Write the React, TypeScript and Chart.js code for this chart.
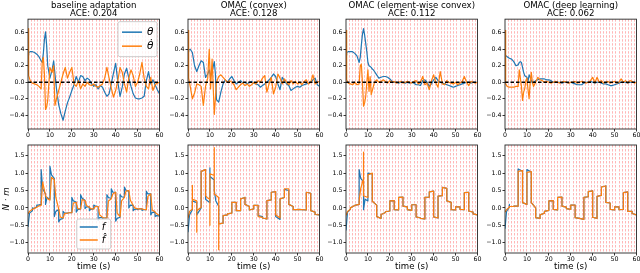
import React, { useEffect, useRef } from 'react';
import { Chart, registerables } from 'chart.js';
Chart.register(...registerables);

const FONT = "'DejaVu Sans', 'Liberation Sans', sans-serif";
const BLUE = '#1f77b4';
const ORANGE = '#ff7f0e';
Chart.defaults.font.family = FONT;

// ---------- titles / labels ----------
const TITLES = ['baseline adaptation', 'OMAC (convex)', 'OMAC (element-wise convex)', 'OMAC (deep learning)'];
const ACE = ['ACE: 0.204', 'ACE: 0.128', 'ACE: 0.112', 'ACE: 0.062'];
const TOP_NAMES = ['\u03B8', '\u03B8\u0307'];
const BOT_NAMES = ['f', 'f\u0302'];
const X_LABEL = 'time (s)';
const Y_LABEL_BOTTOM = 'N \u00B7 m';

// ---------- axes ----------
const X_MIN = 0;
const X_MAX = 60;
const X_TICKS = [0, 10, 20, 30, 40, 50, 60];
const TOP_Y_MIN = -0.566;
const TOP_Y_MAX = 0.764;
const TOP_Y_TICKS = [-0.4, -0.2, 0, 0.2, 0.4, 0.6];
const BOT_Y_MIN = -1.296;
const BOT_Y_MAX = 1.807;
const BOT_Y_TICKS = [-1.0, -0.5, 0, 0.5, 1.0, 1.5];
const VLINE_STEP = 1.4;
const SEG_LEN = 2;
const MID_OFFSET = 0.7;

// ---------- top row: theta and theta-dot ----------
const P1_T = [0, 0.3, 1, 2, 3, 4, 5, 6, 6.5, 7, 7.5, 8, 8.5, 9, 10, 11, 11.7, 12.3, 13, 14, 15, 16, 17, 18, 19, 20, 21, 22, 23, 24, 25, 26, 27, 28, 29, 30, 31, 32, 33, 34, 35, 36, 37, 38, 39, 40, 41, 42, 43, 44, 45, 46, 47, 48, 49, 50, 51, 52, 53, 54, 55, 56, 57, 58, 59, 60];
const P1_THETA = [0.33, 0.36, 0.37, 0.37, 0.36, 0.34, 0.31, 0.26, 0.24, 0.35, 0.52, 0.61, 0.45, 0.2, 0.05, 0.15, 0.26, 0.1,
  -0.08, -0.27, -0.38, -0.46, -0.35, -0.25, -0.18, -0.1, -0.03, 0.07,
  0.0, 0.08, 0.07, 0.02, 0.05, 0.03, -0.02, -0.05, -0.03, -0.08,
  -0.04, -0.06, -0.12, -0.17, -0.14, -0.02, 0.11, 0.23, 0.0, -0.17,
  -0.06, 0.1, 0.17, 0.05, -0.05, -0.14, -0.19, -0.2, -0.2, -0.19,
  -0.17, 0.02, 0.13, -0.02, 0.03, -0.03, -0.09, -0.14];
const P1_DTHETA = [0.65, 0.08, 0.02, -0.01, -0.02, -0.03, -0.05, -0.08, 0.25, 0.3, 0.1, -0.33, -0.3, -0.22, 0.18, 0.12, 0.2, -0.28,
  -0.2, -0.1, 0.0, 0.1, 0.18, 0.05, 0.12, 0.18, -0.02, -0.05,
  0.02, -0.08, -0.02, -0.05, 0.0, -0.03, -0.04, -0.02, -0.05, -0.06,
  -0.04, -0.02, 0.05, 0.18, 0.05, -0.07, -0.18, -0.1, 0.02, 0.18,
  0.12, -0.02, -0.12, 0.05, 0.15, 0.08, -0.05, 0.0, 0.1, 0.24,
  0.05, -0.05, -0.08, 0.06, -0.1, -0.03, -0.01, 0.0];

const P2_T = [0, 0.3, 1, 2, 3, 4, 5, 6, 7, 8, 9, 9.7, 10.3, 11, 12, 12.5, 13, 14, 15, 16, 17, 18, 19, 20, 21, 22, 23, 24, 25, 26, 27, 28, 29, 30, 31, 32, 33, 34, 35, 36, 37, 38, 39, 40, 41, 42, 43, 44, 45, 46, 47, 48, 49, 50, 51, 52, 53, 54, 55, 56, 57, 58, 59, 60];
const P2_THETA = [0.37, 0.39, 0.4, 0.36, 0.2, 0.13, 0.2, 0.26, 0.24, 0.06, 0.1, 0.15, 0.07, 0.13, 0.25, 0.1,
  -0.21, -0.24, -0.12, -0.02, 0.03, 0.0, 0.04, 0.07, 0.02, -0.02,
  0.0, 0.02, -0.01, 0.0, -0.02, 0.0, 0.01, -0.01, -0.02, -0.03,
  -0.06, -0.04, -0.02, 0.0, 0.03, 0.06, 0.1, 0.07, -0.02, -0.09,
  0.06, 0.02, -0.02, -0.04, -0.1, -0.08, -0.06, -0.05, -0.06, -0.04,
  -0.03, -0.02, -0.01, 0.0, 0.03, 0.05, -0.03, -0.05];
const P2_DTHETA = [0.63, 0.05, -0.05, -0.2, -0.13, -0.02, -0.03, -0.05, -0.28, -0.05, 0.05, 0.4, -0.08, 0.28, -0.39, -0.2,
  0.0, 0.07, 0.09, 0.06, 0.03, 0.0, 0.02, 0.0, -0.03, -0.09,
  -0.06, -0.03, -0.01, -0.04, -0.02, -0.05, -0.03, 0.0, -0.02, 0.02,
  0.0, 0.05, 0.08, -0.12, -0.02, 0.06, -0.14, -0.06, 0.1, 0.05,
  -0.02, 0.04, 0.0, -0.03, 0.02, -0.02, 0.01, -0.02, 0.0, -0.03,
  0.01, 0.03, -0.02, 0.0, 0.09, -0.02, 0.0, 0.01];

const P3_T = [0, 0.3, 1, 2, 3, 4, 5, 6, 6.5, 7, 7.5, 8, 8.5, 9, 9.5, 10, 10.5, 11, 11.5, 12, 12.5, 13, 14, 15, 16, 17, 18, 19, 20, 21, 22, 23, 24, 25, 26, 27, 28, 29, 30, 31, 32, 33, 34, 35, 36, 37, 38, 39, 40, 41, 42, 43, 44, 45, 46, 47, 48, 49, 50, 51, 52, 53, 54, 55, 56, 57, 58, 59, 60];
const P3_THETA = [0.33, 0.36, 0.37, 0.37, 0.37, 0.35, 0.32, 0.24, 0.3, 0.45, 0.58, 0.65, 0.57, 0.47, 0.37, 0.24, 0.2, 0.19, 0.18, 0.16, 0.15,
  0.13, 0.09, 0.05, 0.06, 0.07, 0.07, 0.06, 0.04, 0.01, 0.0,
  0.0, -0.01, 0.0, 0.0, -0.01, 0.0, -0.01, 0.0, -0.01, -0.03,
  -0.03, -0.04, 0.02, 0.03, 0.0, -0.05, -0.02, 0.03, 0.06, 0.02,
  0.0, -0.01, -0.02, -0.03, -0.04, -0.05, -0.06, -0.05, -0.04, -0.03,
  -0.02, -0.01, 0.0, 0.0, -0.01, 0.0, 0.0, 0.0];
const P3_DTHETA = [0.63, 0.03, -0.01, -0.02, -0.03, 0.0, -0.03, -0.02, 0.2, 0.22, 0.0, -0.29, -0.25, -0.17, 0.0, 0.15, -0.11, 0.07, -0.15, -0.1, -0.05,
  0.0, 0.03, 0.0, 0.01, 0.03, 0.01, -0.01, 0.02, 0.0, 0.01,
  -0.01, 0.0, 0.01, -0.01, 0.0, 0.01, 0.0, -0.01, 0.01, 0.02,
  -0.02, 0.0, 0.07, -0.03, -0.01, -0.09, 0.02, 0.09, -0.01, -0.06,
  0.13, -0.02, -0.03, 0.02, 0.0, -0.01, -0.02, 0.0, -0.03, -0.01,
  0.01, 0.07, 0.0, -0.04, 0.01, 0.0, -0.01, 0.0];

const P4_T = [0, 0.3, 1, 2, 3, 4, 5, 6, 6.5, 7, 7.5, 8, 8.5, 9, 9.5, 10, 10.5, 11, 11.5, 12, 12.5, 13, 14, 15, 16, 17, 18, 19, 20, 21, 22, 23, 24, 25, 26, 27, 28, 29, 30, 31, 32, 33, 34, 35, 36, 37, 38, 39, 40, 41, 42, 43, 44, 45, 46, 47, 48, 49, 50, 51, 52, 53, 54, 55, 56, 57, 58, 59, 60];
const P4_THETA = [0.33, 0.33, 0.31, 0.29, 0.28, 0.25, 0.2, 0.21, 0.24, 0.25, 0.24, 0.18, 0.12, 0.08, 0.07, 0.06, 0.01, 0.09, 0.06, 0.02, -0.01,
  0.0, 0.02, 0.03, 0.04, 0.04, 0.04, 0.03, 0.03, 0.02, 0.0,
  0.0, 0.0, 0.0, -0.01, 0.0, 0.0, -0.01, 0.0, -0.01, -0.02,
  -0.03, -0.03, -0.03, -0.01, 0.0, 0.0, 0.01, 0.0, -0.01, 0.0,
  0.0, -0.01, -0.02, -0.02, -0.03, -0.04, -0.04, -0.03, -0.02, -0.01,
  0.0, 0.0, 0.0, -0.01, 0.0, 0.0, 0.0, 0.0];
const P4_DTHETA = [0.63, -0.02, -0.05, -0.06, -0.06, -0.06, -0.05, -0.05, 0.15, 0.05, -0.05, -0.22, -0.12, -0.08, 0.02, 0.05, -0.09, -0.2, 0.0, 0.12, 0.0,
  -0.05, 0.0, 0.06, 0.03, 0.02, 0.0, 0.01, 0.0, -0.01, 0.0,
  0.01, 0.0, -0.01, 0.0, 0.01, 0.0, -0.01, 0.0, 0.0, 0.01,
  -0.01, 0.0, 0.01, 0.0, -0.01, 0.0, 0.02, 0.06, -0.01, 0.06,
  0.0, 0.02, -0.01, 0.0, 0.01, -0.01, 0.0, 0.01, -0.01, 0.0,
  0.04, 0.0, 0.02, -0.01, 0.02, 0.01, -0.01, 0.0];

// ---------- bottom row: f and f-hat, per 2 s segment (start J, value M at +0.7 s, end E) ----------
const N = null;
const P1_FHAT_J = [-0.17, -0.04, 0.02, 0.07, 0.35, 0.22, 0.8, -0.03, -0.29, -0.15, -0.14, 0.16, -0.03, 0.21, 0.02, -0.03, 0.04, -0.27, -0.29, 0.26, 0.45, -0.25, 0.3, 0.5, 0.07, -0.03, -0.03, -0.05, 0.4, -0.12];
const P1_FHAT_M = [-0.1, -0.02, 0.05, 0.74, 0.28, 0.88, 0.3, -0.26, -0.16, -0.14, 0.14, -0.02, 0.24, 0.07, -0.03, 0.04, -0.2, -0.29, 0.2, 0.4, -0.15, 0.2, 0.48, 0.22, 0.0, -0.03, -0.04, 0.33, -0.06, -0.17];
const P1_FHAT_E = [-0.04, 0.02, 0.07, 0.35, 0.22, 0.8, -0.03, -0.29, -0.15, -0.14, 0.16, -0.03, 0.21, 0.02, -0.03, 0.04, -0.27, -0.29, 0.26, 0.45, -0.25, 0.3, 0.5, 0.07, -0.03, -0.03, -0.05, 0.4, -0.12, -0.22];
const P1_F_J = [-0.55, 0.0, 0.08, 1.1, 0.1, 1.2, -0.25, -0.4, -0.1, -0.15, 0.3, -0.12, 0.38, -0.02, -0.08, 0.08, -0.35, -0.3, 0.38, 0.55, -0.38, 0.38, 0.6, 0.0, -0.08, -0.05, -0.07, 0.48, -0.2, -0.25];
const P1_F_M = [-0.15, -0.02, 0.08, 0.55, 0.3, 0.95, -0.1, -0.33, -0.15, -0.14, 0.2, -0.05, 0.28, 0.03, -0.04, 0.05, -0.28, -0.29, 0.3, 0.45, -0.3, 0.32, 0.5, 0.08, -0.04, -0.03, -0.05, 0.4, -0.13, -0.22];
const P1_F_E = [-0.08, 0.03, 0.1, 0.4, 0.25, 0.85, -0.05, -0.3, -0.15, -0.14, 0.17, -0.03, 0.22, 0.03, -0.03, 0.04, -0.28, -0.29, 0.27, 0.45, -0.27, 0.3, 0.48, 0.07, -0.03, -0.03, -0.05, 0.4, -0.12, -0.23];

const P2_FHAT_J = [-0.3, 0.25, -0.08, 1.05, 0.35, 0.98, 0.4, -0.46, -0.22, -0.17, 0.16, -0.08, 0.26, 0.1, -0.06, 0.07, -0.25, -0.29, 0.21, 0.45, -0.2, 0.26, 0.55, 0.1, -0.05, -0.04, -0.05, 0.45, -0.08, -0.19];
const P2_FHAT_M = [-0.1, N, N, N, 0.3, N, N, N, N, N, N, N, N, N, N, N, N, N, N, N, N, N, N, N, N, N, N, N, N, N];
const P2_FHAT_E = [-0.03, 0.2, 0.02, 1.1, 0.25, 0.93, 0.3, -0.44, -0.2, -0.15, 0.16, -0.08, 0.3, 0.04, -0.03, 0.07, -0.27, -0.32, 0.23, 0.47, -0.29, 0.3, 0.55, 0.04, -0.05, -0.05, -0.06, 0.42, -0.12, -0.2];
const P2_FHAT_SPIKES = [[1, 0.65], [2, -0.7], [5, -0.5], [6, 1.73], [7, -1.2]];
const P2_F_OVERRIDES = [[0, -0.7, -0.2, -0.05], [1, 0.2, N, 0.15], [2, -0.2, N, 0.0], [4, 0.25, N, 0.15], [5, 0.9, N, 0.8], [6, 0.5, 0.2, 0.05], [16, -0.22, N, -0.25], [20, -0.25, N, -0.33], [22, 0.53, N, 0.5]];
const P2_F_SPIKES = [[5, 1.15]];

const P3_FHAT_J = [-0.22, 0.0, 0.07, 0.2, 0.35, 0.95, 0.19, -0.25, -0.19, -0.11, 0.2, -0.05, 0.3, 0.05, -0.05, 0.09, -0.26, -0.3, 0.3, 0.46, -0.26, 0.34, 0.59, 0.2, -0.05, 0.03, -0.04, 0.44, -0.09, -0.17];
const P3_FHAT_M = [-0.1, N, N, 0.55, N, N, N, N, N, N, N, N, N, N, N, N, N, N, N, N, N, N, N, N, N, N, N, N, N, N];
const P3_FHAT_E = [-0.04, 0.07, 0.1, 0.85, 0.3, 1.0, 0.08, -0.3, -0.13, -0.09, 0.21, -0.06, 0.31, 0.03, -0.07, 0.09, -0.29, -0.32, 0.31, 0.48, -0.29, 0.35, 0.56, 0.16, -0.06, 0.03, -0.05, 0.45, -0.12, -0.2];
const P3_FHAT_SPIKES = [[4, 1.6]];
const P3_F_OVERRIDES = [[0, -0.65, -0.12, -0.04], [3, 1.1, 0.85, 0.75], [4, -0.05, 0.25, 0.2], [5, 1.0, N, 0.98]];
const P3_F_SPIKES: number[][] = [];

const P4_FHAT_J = [-0.12, 0.04, 0.05, 1.05, 0.15, 1.02, 0.15, -0.28, -0.2, -0.1, 0.2, -0.04, 0.3, 0.05, -0.02, 0.08, -0.28, -0.3, 0.3, 0.47, -0.27, 0.33, 0.6, 0.16, -0.04, 0.03, -0.05, 0.44, -0.1, -0.16];
const P4_FHAT_M = [-0.05, N, N, N, N, N, N, N, N, N, N, N, N, N, N, N, N, N, N, N, N, N, N, N, N, N, N, N, N, N];
const P4_FHAT_E = [0.02, 0.04, 0.05, 1.07, 0.1, 1.04, 0.0, -0.3, -0.15, -0.07, 0.21, -0.06, 0.31, 0.02, -0.04, 0.08, -0.3, -0.33, 0.32, 0.49, -0.3, 0.36, 0.63, 0.14, -0.06, 0.03, -0.04, 0.46, -0.1, -0.2];
const P4_F_OVERRIDES = [[0, -0.6, -0.1, 0.02], [3, 1.12, N, 1.05], [5, 1.1, N, 1.03]];
const P4_F_SPIKES = [[1, 0.1]];

// ---------- helpers ----------
type Pt = { x: number; y: number };
const seriesPoints = (T: number[], V: number[]): Pt[] => T.map((t, i) => ({ x: t, y: V[i] }));

function stepPoints(J: number[], M: (number | null)[], E: number[], spikes: number[][]): Pt[] {
  const sp = new Map<number, number>(spikes.map((s) => [s[0], s[1]] as [number, number]));
  const pts: Pt[] = [];
  for (let k = 0; k < J.length; k++) {
    const t0 = k * SEG_LEN;
    if (sp.has(k)) pts.push({ x: t0, y: sp.get(k) as number });
    pts.push({ x: t0, y: J[k] });
    if (M[k] !== null && M[k] !== undefined) pts.push({ x: t0 + MID_OFFSET, y: M[k] as number });
    pts.push({ x: t0 + SEG_LEN, y: E[k] });
  }
  return pts;
}

function overridden(J: number[], M: (number | null)[], E: number[], ov: (number | null)[][]) {
  const j = [...J], m = [...M], e = [...E];
  for (const o of ov) {
    const k = o[0] as number;
    j[k] = o[1] as number; m[k] = o[2]; e[k] = o[3] as number;
  }
  return { j, m, e };
}

const fmt1 = (v: number) => (Math.abs(v) < 1e-9 ? '0.0' : v < 0 ? '\u2212' + Math.abs(v).toFixed(1) : v.toFixed(1));

const VLINES: number[] = [];
for (let t = VLINE_STEP; t < X_MAX - 1e-6; t += VLINE_STEP) VLINES.push(t);

// ---------- layout ----------
const COL_LEFT = [28, 188, 346, 505];
const PLOT_W = 132;
const Y_AXIS_W = 28;
const PAD_R = 4;
const TOP_CANVAS = { top: 0, h: 141, xAxisH: 12 };
const BOT_CANVAS = { top: 140, h: 133, xAxisH: 20, padTop: 5 };

const vlinePlugin = {
  id: 'vlines',
  beforeDatasetsDraw(chart: any) {
    const { ctx, chartArea: a, scales } = chart;
    const x = scales.x;
    ctx.save();
    ctx.beginPath();
    ctx.rect(a.left, a.top, a.right - a.left, a.bottom - a.top);
    ctx.clip();
    ctx.strokeStyle = 'rgba(255,0,0,0.28)';
    ctx.lineWidth = 1;
    ctx.setLineDash([2.5, 1.5]);
    for (const v of VLINES) {
      const px = Math.round(x.getPixelForValue(v)) + 0.5;
      ctx.beginPath();
      ctx.moveTo(px, a.top);
      ctx.lineTo(px, a.bottom);
      ctx.stroke();
    }
    ctx.restore();
  },
};

const framePlugin = {
  id: 'frame',
  afterDatasetsDraw(chart: any) {
    const { ctx, chartArea: a } = chart;
    ctx.save();
    ctx.strokeStyle = '#262626';
    ctx.lineWidth = 0.9;
    ctx.strokeRect(a.left, a.top, a.right - a.left, a.bottom - a.top);
    ctx.restore();
  },
};

type LegendSpec = {
  loc: 'upper right' | 'lower center';
  w: number; h: number; pad: number; rowY0: number; rowGap: number;
  lineX0: number; lineX1: number; textX: number; fontSize: number;
  items: { label: string; color: string }[];
};

function legendPlugin(spec: LegendSpec) {
  return {
    id: 'boxLegend',
    afterDraw(chart: any) {
      const { ctx, chartArea: a } = chart;
      let left: number, top: number;
      if (spec.loc === 'upper right') {
        left = a.right - spec.pad - spec.w;
        top = a.top + spec.pad;
      } else {
        left = (a.left + a.right) / 2 - spec.w / 2;
        top = a.bottom - spec.pad - spec.h;
      }
      ctx.save();
      ctx.beginPath();
      if (ctx.roundRect) ctx.roundRect(left, top, spec.w, spec.h, 2);
      else ctx.rect(left, top, spec.w, spec.h);
      ctx.fillStyle = 'rgba(255,255,255,0.8)';
      ctx.fill();
      ctx.strokeStyle = '#cccccc';
      ctx.lineWidth = 1;
      ctx.stroke();
      spec.items.forEach((it, i) => {
        const y = top + spec.rowY0 + i * spec.rowGap;
        ctx.beginPath();
        ctx.moveTo(left + spec.lineX0, y);
        ctx.lineTo(left + spec.lineX1, y);
        ctx.strokeStyle = it.color;
        ctx.lineWidth = 1.5;
        ctx.stroke();
        ctx.fillStyle = '#000';
        ctx.font = `italic ${spec.fontSize}px ${FONT}`;
        ctx.textBaseline = 'middle';
        ctx.textAlign = 'left';
        ctx.fillText(it.label, left + spec.textX, y);
      });
      ctx.restore();
    },
  };
}

type PanelCfg = {
  row: number; col: number;
  truth: Pt[]; est: Pt[];
  legend?: LegendSpec;
  yTitle?: string;
};

function buildPanels(): PanelCfg[] {
  const panels: PanelCfg[] = [];
  const tops = [
    [P1_T, P1_THETA, P1_DTHETA],
    [P2_T, P2_THETA, P2_DTHETA],
    [P3_T, P3_THETA, P3_DTHETA],
    [P4_T, P4_THETA, P4_DTHETA],
  ];
  tops.forEach((d, c) => {
    panels.push({
      row: 0, col: c,
      truth: seriesPoints(d[0], d[1]),
      est: seriesPoints(d[0], d[2]),
      legend: c === 0 ? {
        loc: 'upper right', w: 39, h: 35, pad: 2.5, rowY0: 10.5, rowGap: 14,
        lineX0: 4, lineX1: 24, textX: 29, fontSize: 10.5,
        items: [{ label: TOP_NAMES[0], color: BLUE }, { label: TOP_NAMES[1], color: ORANGE }],
      } : undefined,
    });
  });
  const p2f = overridden(P2_FHAT_J, P2_FHAT_M, P2_FHAT_E, P2_F_OVERRIDES);
  const p3f = overridden(P3_FHAT_J, P3_FHAT_M, P3_FHAT_E, P3_F_OVERRIDES);
  const p4f = overridden(P4_FHAT_J, P4_FHAT_M, P4_FHAT_E, P4_F_OVERRIDES);
  const bots: [Pt[], Pt[]][] = [
    [stepPoints(P1_F_J, P1_F_M, P1_F_E, []), stepPoints(P1_FHAT_J, P1_FHAT_M, P1_FHAT_E, [])],
    [stepPoints(p2f.j, p2f.m, p2f.e, P2_F_SPIKES), stepPoints(P2_FHAT_J, P2_FHAT_M, P2_FHAT_E, P2_FHAT_SPIKES)],
    [stepPoints(p3f.j, p3f.m, p3f.e, P3_F_SPIKES), stepPoints(P3_FHAT_J, P3_FHAT_M, P3_FHAT_E, P3_FHAT_SPIKES)],
    [stepPoints(p4f.j, p4f.m, p4f.e, P4_F_SPIKES), stepPoints(P4_FHAT_J, P4_FHAT_M, P4_FHAT_E, [])],
  ];
  bots.forEach((d, c) => {
    panels.push({
      row: 1, col: c, truth: d[0], est: d[1],
      yTitle: c === 0 ? Y_LABEL_BOTTOM : undefined,
      legend: c === 0 ? {
        loc: 'lower center', w: 34, h: 30, pad: 4, rowY0: 8, rowGap: 13,
        lineX0: 3, lineX1: 21, textX: 25, fontSize: 10,
        items: [{ label: BOT_NAMES[0], color: BLUE }, { label: BOT_NAMES[1], color: ORANGE }],
      } : undefined,
    });
  });
  return panels;
}

function buildConfig(p: PanelCfg): any {
  const isTop = p.row === 0;
  const common = { pointRadius: 0, fill: false, tension: 0, borderWidth: 1.2, borderJoinStyle: 'round', borderCapStyle: 'butt' };
  const datasets: any[] = [
    { ...common, label: isTop ? TOP_NAMES[1] : BOT_NAMES[1], data: p.est, borderColor: ORANGE, order: 1 },
    { ...common, label: isTop ? TOP_NAMES[0] : BOT_NAMES[0], data: p.truth, borderColor: BLUE, order: 2 },
  ];
  if (isTop) {
    datasets.push({ ...common, label: 'zero', data: [{ x: X_MIN, y: 0 }, { x: X_MAX, y: 0 }], borderColor: '#000', borderWidth: 1.3, borderDash: [3.5, 2], order: 0 });
  }
  const tickFont = { family: FONT, size: 6.3 };
  const plugins: any[] = [vlinePlugin, framePlugin];
  if (p.legend) plugins.push(legendPlugin(p.legend));
  return {
    type: 'line',
    data: { datasets },
    plugins,
    options: {
      animation: false,
      responsive: false,
      devicePixelRatio: 1,
      events: [],
      layout: { padding: { top: isTop ? 0 : BOT_CANVAS.padTop, right: PAD_R, left: 0, bottom: 0 } },
      plugins: {
        legend: { display: false },
        tooltip: { enabled: false },
        title: isTop ? {
          display: true,
          text: [TITLES[p.col], ACE[p.col]],
          color: '#000',
          fullSize: false,
          font: { family: FONT, size: 8.6, weight: 'normal', lineHeight: 0.94 },
          padding: { top: 1.5, bottom: 1.5 },
        } : { display: false },
      },
      scales: {
        x: {
          type: 'linear', min: X_MIN, max: X_MAX,
          afterBuildTicks: (ax: any) => { ax.ticks = X_TICKS.map((v) => ({ value: v })); },
          ticks: { autoSkip: false, maxRotation: 0, padding: 0.5, color: '#000', font: tickFont, callback: (v: number) => String(v) },
          grid: { drawOnChartArea: false, drawTicks: true, tickLength: 2.5, color: '#000', lineWidth: 0.8 },
          border: { display: false },
          title: isTop ? { display: false } : { display: true, text: X_LABEL, color: '#000', font: { family: FONT, size: 8.6, lineHeight: 1.2 }, padding: { top: 0, bottom: 1 } },
          afterFit: (ax: any) => { ax.height = isTop ? TOP_CANVAS.xAxisH : BOT_CANVAS.xAxisH; },
        },
        y: {
          type: 'linear',
          min: isTop ? TOP_Y_MIN : BOT_Y_MIN,
          max: isTop ? TOP_Y_MAX : BOT_Y_MAX,
          afterBuildTicks: (ax: any) => { ax.ticks = (isTop ? TOP_Y_TICKS : BOT_Y_TICKS).map((v) => ({ value: v })); },
          ticks: { autoSkip: false, padding: 1, color: '#000', font: tickFont, callback: (v: number) => fmt1(v) },
          grid: { drawOnChartArea: false, drawTicks: true, tickLength: 2.5, color: '#000', lineWidth: 0.8 },
          border: { display: false },
          title: p.yTitle ? { display: true, text: p.yTitle, color: '#000', font: { family: FONT, size: 8.6, style: 'italic', lineHeight: 1.2 }, padding: { top: 2, bottom: 0 } } : { display: false },
          afterFit: (ax: any) => { ax.width = Y_AXIS_W; },
        },
      },
    },
  };
}

function Panel({ cfg }: { cfg: PanelCfg }) {
  const ref = useRef<HTMLCanvasElement>(null);
  const isTop = cfg.row === 0;
  const left = COL_LEFT[cfg.col] - Y_AXIS_W;
  const w = Y_AXIS_W + PLOT_W + PAD_R;
  const top = isTop ? TOP_CANVAS.top : BOT_CANVAS.top;
  const h = isTop ? TOP_CANVAS.h : BOT_CANVAS.h;
  useEffect(() => {
    if (!ref.current) return;
    const chart = new Chart(ref.current, buildConfig(cfg));
    return () => chart.destroy();
  }, [cfg]);
  return (
    <canvas
      ref={ref}
      width={w}
      height={h}
      style={{ position: 'absolute', left, top, width: w, height: h }}
    />
  );
}

const PANELS = buildPanels();

export default function App() {
  return (
    <div style={{ position: 'absolute', left: 0, top: 0, width: 640, height: 273, overflow: 'hidden', background: '#fff' }}>
      {PANELS.map((p, i) => (
        <Panel key={i} cfg={p} />
      ))}
    </div>
  );
}
